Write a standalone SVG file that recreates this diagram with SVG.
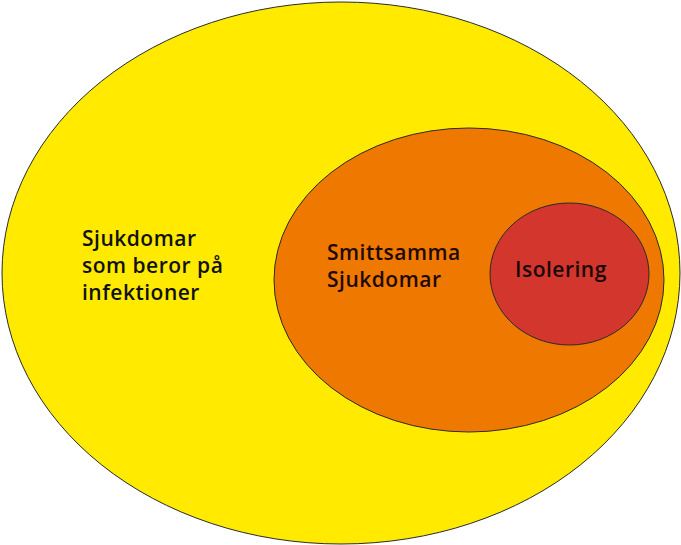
<svg xmlns="http://www.w3.org/2000/svg" width="681" height="545" viewBox="0 0 681 545">
<style>
.set{stroke:#2a2a2a;stroke-width:1}
.lbl{font-family:"Open Sans","Noto Sans",sans-serif;font-weight:600;font-size:21px;letter-spacing:0.5px;fill:#111}
</style>
<rect width="681" height="545" fill="#ffffff"/>
<g id="infektioner">
<ellipse class="set" cx="341" cy="273" rx="339" ry="271" fill="#FFEA00"/>
<text class="lbl"><tspan x="82" y="246">Sjukdomar</tspan><tspan x="82" y="273">som beror på</tspan><tspan x="82" y="300">infektioner</tspan></text>
</g>
<g id="smittsamma">
<ellipse class="set" cx="469" cy="280" rx="195" ry="152" fill="#EE7800"/>
<text class="lbl" style="fill:#1e0a00"><tspan x="327" y="260">Smittsamma</tspan><tspan x="327" y="287">Sjukdomar</tspan></text>
</g>
<g id="isolering">
<ellipse class="set" cx="569.5" cy="274" rx="79.5" ry="71" fill="#D3362D"/>
<text class="lbl" style="fill:#1a0808" x="515" y="277">Isolering</text>
</g>
<g id="connectors"></g>
</svg>
